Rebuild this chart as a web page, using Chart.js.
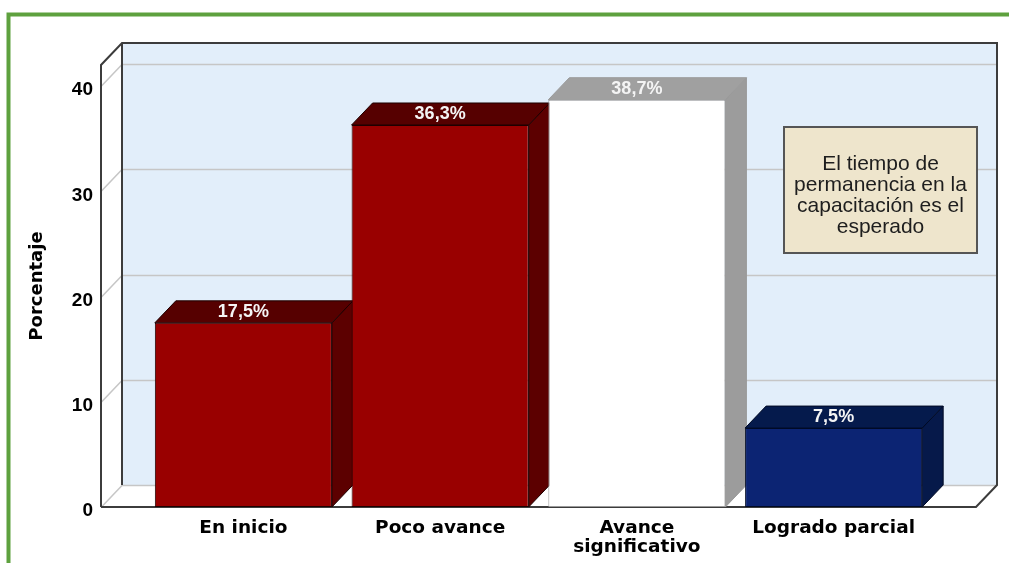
<!DOCTYPE html>
<html>
<head>
<meta charset="utf-8">
<script src="https://cdn.jsdelivr.net/npm/chart.js@4.4.0/dist/chart.umd.min.js"></script>
<style>
  html, body { margin: 0; padding: 0; background: #fff; }
  #wrap { width: 1009px; height: 563px; position: relative; }
</style>
</head>
<body>
<div id="wrap"><canvas id="chart" width="1009" height="563"></canvas></div>
<script>
// data
const categories = [['En inicio'], ['Poco avance'], ['Avance', 'significativo'], ['Logrado parcial']];
const percentages = [17.5, 36.3, 38.7, 7.5];
const yTicks = [0, 10, 20, 30, 40];
const yMax = 42;
const boxLines = ['El tiempo de', 'permanencia en la', 'capacitación es el', 'esperado'];

// styles
const frontColors = ['#990000', '#990000', '#ffffff', '#0c2473'];
const topColors = ['#560000', '#560000', '#a0a0a0', '#051a4c'];
const sideColors = ['#5c0000', '#5c0000', '#9c9c9c', '#06194a'];
const edgeColors = ['#1e0000', '#1e0000', '#9a9a9a', '#000a25'];

const DX = 21, DY = 22, PAD = 44;

function poly(ctx, pts, fill, stroke) {
    ctx.beginPath();
    ctx.moveTo(pts[0][0], pts[0][1]);
    for (let i = 1; i < pts.length; i++) ctx.lineTo(pts[i][0], pts[i][1]);
    ctx.closePath();
    ctx.fillStyle = fill;
    ctx.fill();
    if (stroke) {
        ctx.strokeStyle = stroke;
        ctx.stroke();
    }
}

function fmt(v) {
    return v.toFixed(1).replace('.', ',') + '%';
}

const depthPlugin = {
    id: 'depth',
    beforeDraw(chart) {
        const ctx = chart.ctx, a = chart.chartArea, ys = chart.scales.y;
        const L = a.left - PAD, R = a.right + PAD, T = a.top, B = a.bottom;
        ctx.save();

        // green frame
        ctx.strokeStyle = '#5ea13e';
        ctx.lineWidth = 4;
        ctx.strokeRect(8.5, 14.5, 1200, 800);

        // walls and floor
        poly(ctx, [[L, B], [L, T], [L + DX, T - DY], [L + DX, B - DY]], '#ffffff');
        ctx.fillStyle = '#e2eefa';
        ctx.fillRect(L + DX, T - DY, R - L, B - T);
        poly(ctx, [[L, B], [R, B], [R + DX, B - DY], [L + DX, B - DY]], '#ffffff');

        // grid lines
        ctx.strokeStyle = '#c6c6c6';
        ctx.lineWidth = 1.5;
        ys.ticks.forEach(t => {
            const py = Math.round(ys.getPixelForValue(t.value)) + 0.5;
            ctx.beginPath();
            ctx.moveTo(L, py);
            ctx.lineTo(L + DX, py - DY);
            ctx.lineTo(R + DX, py - DY);
            ctx.stroke();
        });

        // outline
        ctx.strokeStyle = '#3c3c3c';
        ctx.lineWidth = 2;
        ctx.beginPath();
        ctx.moveTo(L, B);
        ctx.lineTo(L, T);
        ctx.lineTo(L + DX, T - DY);
        ctx.lineTo(R + DX, T - DY);
        ctx.lineTo(R + DX, B - DY);
        ctx.lineTo(R, B);
        ctx.lineTo(L, B);
        ctx.moveTo(L + DX, T - DY);
        ctx.lineTo(L + DX, B - DY);
        ctx.stroke();

        // note box
        const bw = 193, bh = 126;
        const bx = R + DX - 20 - bw, by = T + 62;
        ctx.fillStyle = '#eee5cc';
        ctx.fillRect(bx, by, bw, bh);
        ctx.strokeStyle = '#555555';
        ctx.lineWidth = 2;
        ctx.strokeRect(bx, by, bw, bh);
        ctx.fillStyle = '#1e1e1e';
        ctx.font = '21px "Liberation Sans", Arial, sans-serif';
        ctx.textAlign = 'center';
        ctx.textBaseline = 'alphabetic';
        boxLines.forEach((s, i) => {
            ctx.fillText(s, bx + bw / 2, by + 43 + i * 21);
        });
        ctx.restore();
    },
    beforeDatasetsDraw(chart) {
        const ctx = chart.ctx;
        ctx.save();
        ctx.lineWidth = 1;
        chart.getDatasetMeta(0).data.forEach((bar, i) => {
            const p = bar.getProps(['x', 'y', 'base', 'width'], true);
            const l = p.x - p.width / 2, r = p.x + p.width / 2;
            poly(ctx, [[r, p.base], [r, p.y], [r + DX, p.y - DY], [r + DX, p.base - DY]], sideColors[i], edgeColors[i]);
            poly(ctx, [[l, p.y], [r, p.y], [r + DX, p.y - DY], [l + DX, p.y - DY]], topColors[i], edgeColors[i]);
        });
        ctx.restore();
    },
    afterDatasetsDraw(chart) {
        const ctx = chart.ctx;
        ctx.save();
        ctx.font = 'bold 18px "Liberation Sans", Arial, sans-serif';
        ctx.fillStyle = '#f4f4f4';
        ctx.textAlign = 'center';
        ctx.textBaseline = 'middle';
        chart.getDatasetMeta(0).data.forEach((bar, i) => {
            const p = bar.getProps(['x', 'y'], true);
            ctx.fillText(fmt(percentages[i]), p.x, p.y - DY / 2);
        });
        ctx.restore();
    }
};

new Chart('chart', {
    type: 'bar',
    data: {
        labels: categories,
        datasets: [{
            data: percentages,
            backgroundColor: frontColors,
            borderColor: edgeColors,
            borderWidth: 1,
            borderSkipped: false,
            categoryPercentage: 1,
            barPercentage: 0.9
        }]
    },
    options: {
        responsive: false,
        animation: false,
        devicePixelRatio: 1,
        layout: { padding: { top: 65, right: 77, bottom: 0, left: 20 } },
        plugins: {
            legend: { display: false },
            tooltip: { enabled: false }
        },
        scales: {
            x: {
                grid: { display: false, drawTicks: false },
                border: { display: false },
                ticks: {
                    color: '#000',
                    font: { family: '"DejaVu Sans", sans-serif', weight: 'bold', size: 18.5, lineHeight: 1.05 },
                    padding: 11,
                    maxRotation: 0,
                    autoSkip: false
                },
                afterFit: s => { s.height = 56; }
            },
            y: {
                min: 0,
                max: yMax,
                grid: { display: false, drawTicks: false },
                border: { display: false },
                afterBuildTicks: s => { s.ticks = yTicks.map(v => ({ value: v })); },
                ticks: {
                    color: '#000',
                    font: { family: '"Liberation Sans", Arial, sans-serif', weight: 'bold', size: 19 },
                    padding: 52,
                    labelOffset: 4
                },
                title: {
                    display: true,
                    text: 'Porcentaje',
                    color: '#000',
                    font: { family: '"DejaVu Sans", sans-serif', weight: 'bold', size: 18 },
                    padding: { top: 7, bottom: 0 }
                },
                afterFit: s => {
                    s.width = 125;
                    s.paddingTop = 0;
                    s.paddingBottom = 0;
                }
            }
        }
    },
    plugins: [depthPlugin]
});
</script>
</body>
</html>
